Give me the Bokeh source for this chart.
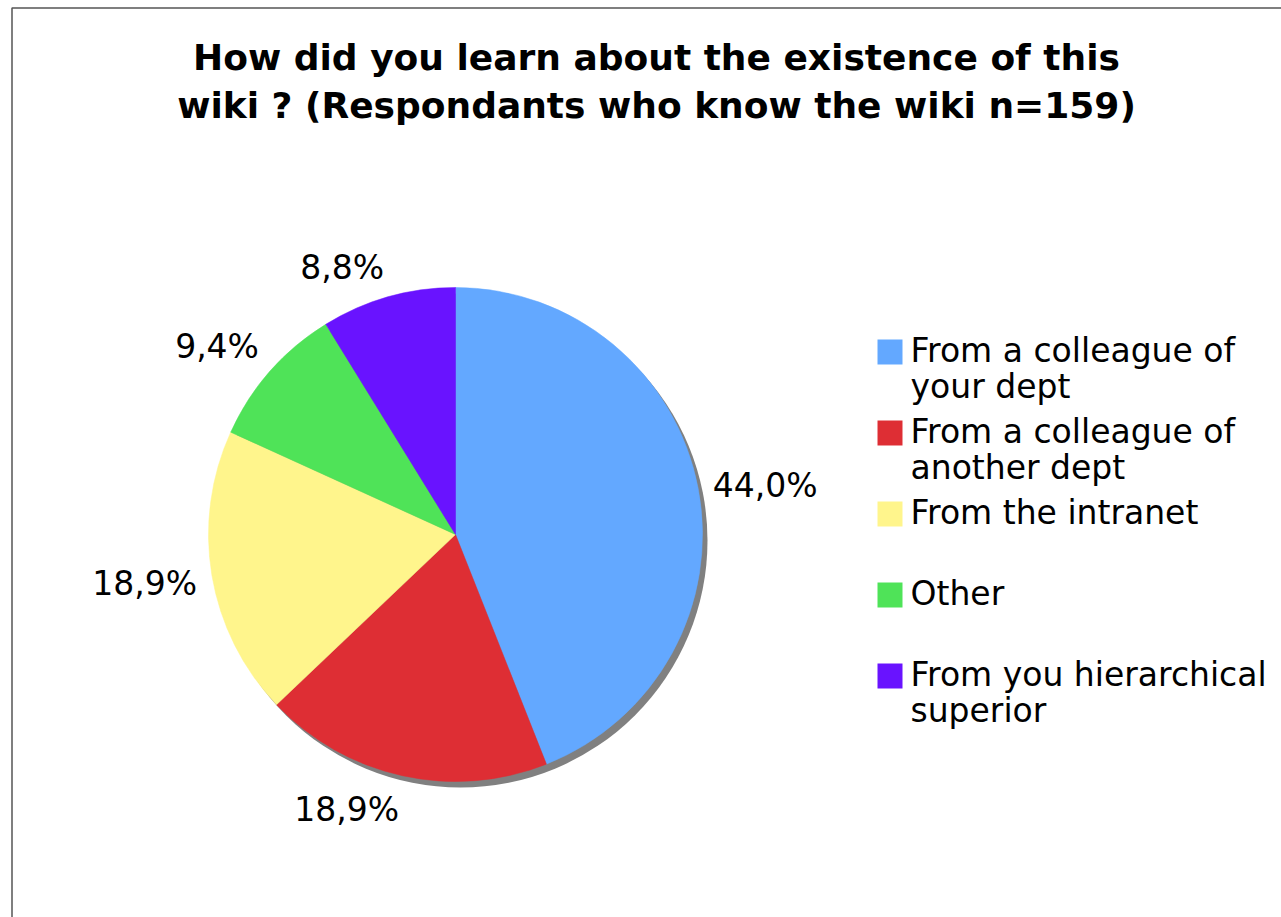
import math
from bokeh.plotting import figure
from bokeh.models import Range1d
from bokeh.core.properties import value
from bokeh.embed import file_html
from bokeh.resources import INLINE

# ---- data ----
title_lines = ["How did you learn about the existence of this",
               "wiki ? (Respondants who know the wiki n=159)"]
categories = ["From a colleague of\nyour dept",
              "From a colleague of\nanother dept",
              "From the intranet",
              "Other",
              "From you hierarchical\nsuperior"]
percentages = [44.0, 18.9, 18.9, 9.4, 8.8]
colors = ["#63a8ff", "#de2e34", "#fff58c", "#4fe358", "#6913ff"]

# ---- layout ----
W, H = 1281, 917
FONT = "DejaVu Sans"
TITLE_PX = 36
BODY_PX = 33


def Y(py):
    return H - py


p = figure(width=W, height=H, x_range=Range1d(0, W), y_range=Range1d(0, H),
           output_backend="svg", toolbar_location=None, min_border=0,
           x_axis_type=None, y_axis_type=None, outline_line_color=None)
p.grid.visible = False
p.background_fill_color = "white"
p.border_fill_color = "white"

# frame
p.line(x=[11.5, 11.5, W + 5], y=[Y(H + 5), Y(7.5), Y(7.5)],
       line_color="#555555", line_width=1.5)

# title (baseline compensation for svg rendering)
for j, t in enumerate(title_lines):
    p.text(x=[656], y=[Y(71 + 48 * j - 0.38 * TITLE_PX)], text=[t], text_font=value(FONT),
           text_font_style="bold", text_font_size=f"{TITLE_PX}px", text_align="center",
           text_baseline="alphabetic", text_color="black")

# pie
cx, cy, r = 455, Y(534), 247
p.circle(x=[cx + 5], y=[cy - 6], radius=r, fill_color="#808080", line_color=None)

total = sum(percentages)
cum = 0.0
for v, c in zip(percentages, colors):
    a0 = math.pi / 2 - 2 * math.pi * cum / total
    a1 = math.pi / 2 - 2 * math.pi * (cum + v) / total
    p.wedge(x=[cx], y=[cy], radius=r, start_angle=a1, end_angle=a0,
            fill_color=c, line_color=c, line_width=0.5)
    mid = (a0 + a1) / 2
    R = r + 15
    ca, sa = math.cos(mid), math.sin(mid)
    align = "right" if ca < 0 else "left"
    dy = 0
    if abs(sa) < 0.3:
        base = "middle"
        dy = -6 if sa < 0 else 0
    elif sa > 0:
        base = "bottom"
        dy = -5
    else:
        base = "top"
    label = f"{v:.1f}".replace(".", ",") + "%"
    p.text(x=[cx + R * ca], y=[cy + R * sa + dy], text=[label], text_font=value(FONT),
           text_font_size=f"{BODY_PX}px", text_align=align, text_baseline=base,
           text_color="black")
    cum += v

# legend
for i, (cat, c) in enumerate(zip(categories, colors)):
    base_y = 363 + 81 * i
    p.rect(x=[889.5], y=[Y(base_y - 11.5)], width=25, height=25,
           fill_color=c, line_color=None)
    for j, line in enumerate(cat.split("\n")):
        p.text(x=[910], y=[Y(base_y + 36 * j - 0.38 * BODY_PX)], text=[line],
               text_font=value(FONT), text_font_size=f"{BODY_PX}px", text_align="left",
               text_baseline="alphabetic", text_color="black")

open("out.html", "w").write(file_html(p, INLINE))
